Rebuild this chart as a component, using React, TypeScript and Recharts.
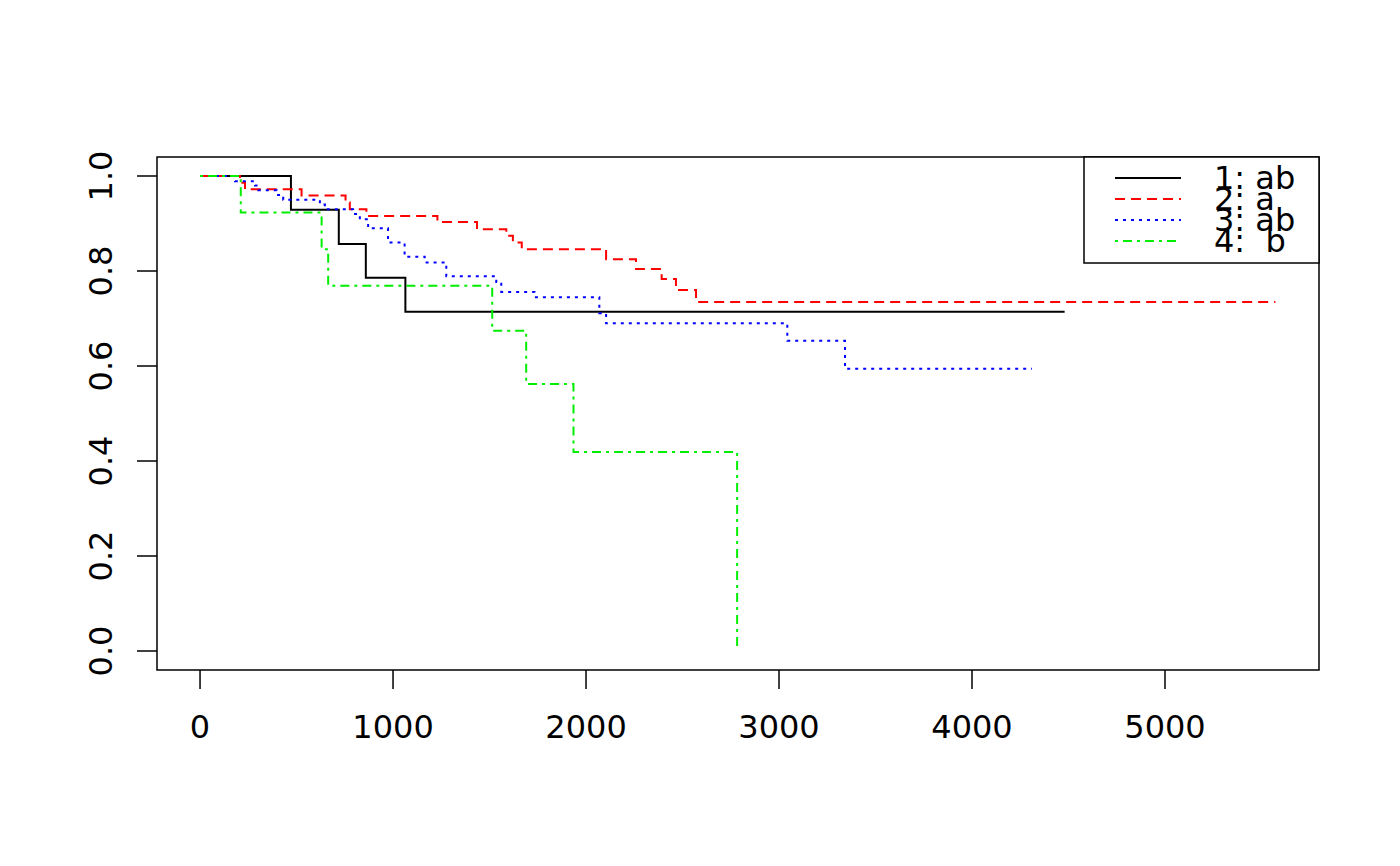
import React from 'react';
import { LineChart, Line, XAxis, YAxis, ReferenceArea, Legend } from 'recharts';

// survival curves, one pair of arrays per group (time, survival)
const timesG1 = [0, 471, 719, 859, 1064, 4480];
const survG1 = [1, 0.929, 0.857, 0.786, 0.714, 0.714];

const timesG2 = [0, 207, 233, 526, 754, 776, 862, 1230, 1435, 1587, 1621, 1667, 2104, 2259, 2392, 2466, 2570, 5572];
const survG2 = [1, 0.986, 0.972, 0.959, 0.944, 0.93, 0.916, 0.903, 0.888, 0.874, 0.86, 0.846, 0.825, 0.804, 0.783, 0.76, 0.735, 0.735];

const timesG3 = [0, 181, 285, 302, 397, 431, 621, 647, 793, 828, 871, 974, 1060, 1164, 1276, 1535, 1561, 1733, 2069, 2104, 3043, 3342, 4311];
const survG3 = [1, 0.989, 0.98, 0.97, 0.96, 0.95, 0.94, 0.93, 0.92, 0.909, 0.89, 0.86, 0.83, 0.818, 0.789, 0.777, 0.756, 0.745, 0.711, 0.69, 0.653, 0.594, 0.594];

const timesG4 = [0, 211, 630, 664, 1514, 1690, 1935, 2783];
const survG4 = [1, 0.923, 0.846, 0.769, 0.674, 0.562, 0.419, 0];

const groupLabels = ['1: ab', '2: a', '3: ab', '4:  b'];
const groupColors = ['#000000', '#ff0000', '#0000ff', '#00ee00'];
const groupDashes = ['', '10 6', '3 5', '3 5 9 5'];

const xTicks = [0, 1000, 2000, 3000, 4000, 5000];
const yTicks = [0, 0.2, 0.4, 0.6, 0.8, 1.0];

const toPoints = (times: number[], surv: number[]) => times.map((t, i) => ({ t, s: surv[i] }));

const series = [
  toPoints(timesG1, survG1),
  toPoints(timesG2, survG2),
  toPoints(timesG3, survG3),
  toPoints(timesG4, survG4),
];

const FONT = '"DejaVu Sans", sans-serif';
const FS = 32;

const XTick = (props: any) => {
  const { x, y, payload } = props;
  return (
    <text x={x} y={y + 47} textAnchor="middle" fontFamily={FONT} fontSize={FS} fill="#000">
      {payload.value}
    </text>
  );
};

const YTick = (props: any) => {
  const { x, y, payload } = props;
  return (
    <text
      transform={`translate(${x - 23},${y}) rotate(-90)`}
      textAnchor="middle"
      fontFamily={FONT}
      fontSize={FS}
      fill="#000"
    >
      {Number(payload.value).toFixed(1)}
    </text>
  );
};

const LegendBox = () => (
  <svg width={237} height={108} style={{ display: 'block' }}>
    <rect x={1} y={1} width={235} height={106} fill="#fff" stroke="#000" strokeWidth={1.5} />
    {groupLabels.map((label, i) => {
      const ly = 22 + i * 21;
      return (
        <g key={label}>
          <line x1={32} x2={98} y1={ly} y2={ly} stroke={groupColors[i]} strokeWidth={2} strokeDasharray={groupDashes[i] || undefined} />
          <text x={131} y={ly + 11} fontFamily={FONT} fontSize={FS} fill="#000" style={{ whiteSpace: 'pre' }}>
            {label}
          </text>
        </g>
      );
    })}
  </svg>
);

const App: React.FC = () => {
  return (
    <div style={{ position: 'absolute', left: 0, top: 0, width: 1400, height: 866, background: '#fff' }}>
      <LineChart width={1400} height={866} margin={{ top: 157, right: 81, left: 97, bottom: 136 }}>
        <XAxis
          dataKey="t"
          type="number"
          domain={[-223, 5798]}
          allowDataOverflow
          ticks={xTicks}
          tickSize={19}
          tickLine={{ stroke: '#000', strokeWidth: 1.5 }}
          axisLine={false}
          tick={XTick}
          height={60}
          interval={0}
        />
        <YAxis
          type="number"
          domain={[-0.04, 1.04]}
          allowDataOverflow
          ticks={yTicks}
          tickSize={20}
          tickLine={{ stroke: '#000', strokeWidth: 1.5 }}
          axisLine={false}
          tick={YTick}
          width={60}
          interval={0}
        />
        <ReferenceArea x1={-223} x2={5798} y1={-0.04} y2={1.04} fill="none" stroke="#000" strokeWidth={1.5} ifOverflow="visible" />
        {series.map((pts, i) => (
          <Line
            key={groupLabels[i]}
            data={pts}
            dataKey="s"
            type="stepAfter"
            stroke={groupColors[i]}
            strokeWidth={2}
            strokeDasharray={groupDashes[i] || undefined}
            dot={false}
            isAnimationActive={false}
            name={groupLabels[i]}
          />
        ))}
        <Legend
          layout="horizontal"
          verticalAlign="middle"
          align="center"
          content={LegendBox}
          wrapperStyle={{ top: 156, left: 1083, width: 237, height: 108, lineHeight: 0 }}
        />
      </LineChart>
    </div>
  );
};

export default App;
